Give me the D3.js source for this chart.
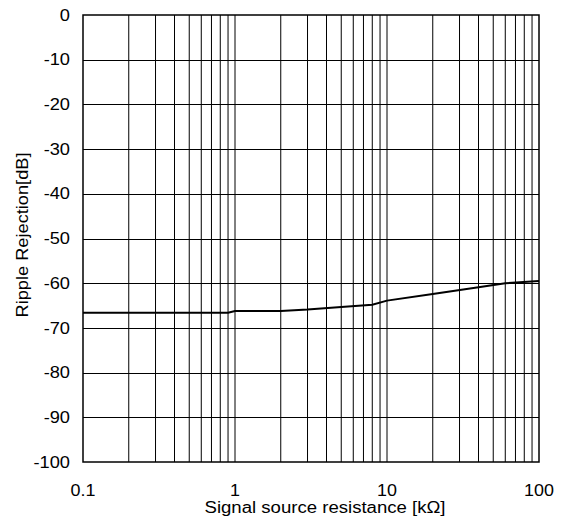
<!DOCTYPE html>
<html>
<head>
<meta charset="utf-8">
<script src="https://cdn.jsdelivr.net/npm/d3@7"></script>
<style>
  html, body { margin: 0; padding: 0; background: #fff; }
  svg { display: block; font-family: "Liberation Sans", Arial, sans-serif; }
</style>
</head>
<body>
<svg id="chart" width="561" height="521"></svg>
<script>
// Data
const resistanceK = [0.1, 0.9, 1, 2, 3, 5, 8, 10, 20, 40, 60, 100];
const rippleDb   = [-66.6, -66.6, -66.2, -66.2, -65.9, -65.3, -64.8, -63.9, -62.4, -60.9, -60.0, -59.5];
const xTickValues = [0.1, 1, 10, 100];
const xTickLabels = ["0.1", "1", "10", "100"];
const yTickValues = [0, -10, -20, -30, -40, -50, -60, -70, -80, -90, -100];
const xTitle = "Signal source resistance [kΩ]";
const yTitle = "Ripple Rejection[dB]";

const svg = d3.select("#chart");
const pL = 83, pR = 539, pT = 15, pB = 462;

const x = d3.scaleLog().domain([0.1, 100]).range([pL, pR]);
const y = d3.scaleLinear().domain([-100, 0]).range([pB, pT]);

// minor/major vertical grid lines
const vGrid = [];
for (let e = -1; e < 2; e++) {
  for (let m = 1; m <= 9; m++) vGrid.push(+(m * Math.pow(10, e)).toPrecision(3));
}
svg.append("g").selectAll("line").data(vGrid.filter(v => v > 0.1 && v < 100)).join("line")
  .attr("x1", d => x(d)).attr("x2", d => x(d))
  .attr("y1", pT).attr("y2", pB)
  .attr("stroke", "#000").attr("stroke-width", 1);

svg.append("g").selectAll("line").data(yTickValues.filter(v => v > -100 && v < 0)).join("line")
  .attr("x1", pL).attr("x2", pR)
  .attr("y1", d => Math.round(y(d)) + 0.5).attr("y2", d => Math.round(y(d)) + 0.5)
  .attr("stroke", "#000").attr("stroke-width", 1);

// frame
svg.append("rect").attr("x", pL).attr("y", pT)
  .attr("width", pR - pL).attr("height", pB - pT)
  .attr("fill", "none").attr("stroke", "#000").attr("stroke-width", 1.5);

// y labels (reference glyphs are horizontally wider)
svg.append("g").selectAll("text").data(yTickValues).join("text")
  .attr("transform", d => `translate(70,${y(d)}) scale(1.14,1)`)
  .attr("dy", "0.35em")
  .attr("text-anchor", "end").attr("font-size", 16).attr("fill", "#000")
  .text(d => d);

// x labels
svg.append("g").selectAll("text").data(xTickValues).join("text")
  .attr("transform", d => `translate(${x(d)},496) scale(1.12,1)`)
  .attr("text-anchor", "middle").attr("font-size", 16).attr("fill", "#000")
  .text((d, i) => xTickLabels[i]);

// titles
svg.append("text").attr("x", 325).attr("y", 513)
  .attr("text-anchor", "middle").attr("font-size", 16)
  .attr("textLength", 241).attr("lengthAdjust", "spacingAndGlyphs")
  .text(xTitle);
svg.append("text").attr("transform", `translate(28,235) rotate(-90)`)
  .attr("text-anchor", "middle").attr("font-size", 16)
  .attr("textLength", 165).attr("lengthAdjust", "spacingAndGlyphs")
  .text(yTitle);

// data line
const line = d3.line().x((d, i) => x(resistanceK[i])).y(d => y(d));
svg.append("path").datum(rippleDb).attr("d", line)
  .attr("fill", "none").attr("stroke", "#000").attr("stroke-width", 2);
</script>
</body>
</html>
